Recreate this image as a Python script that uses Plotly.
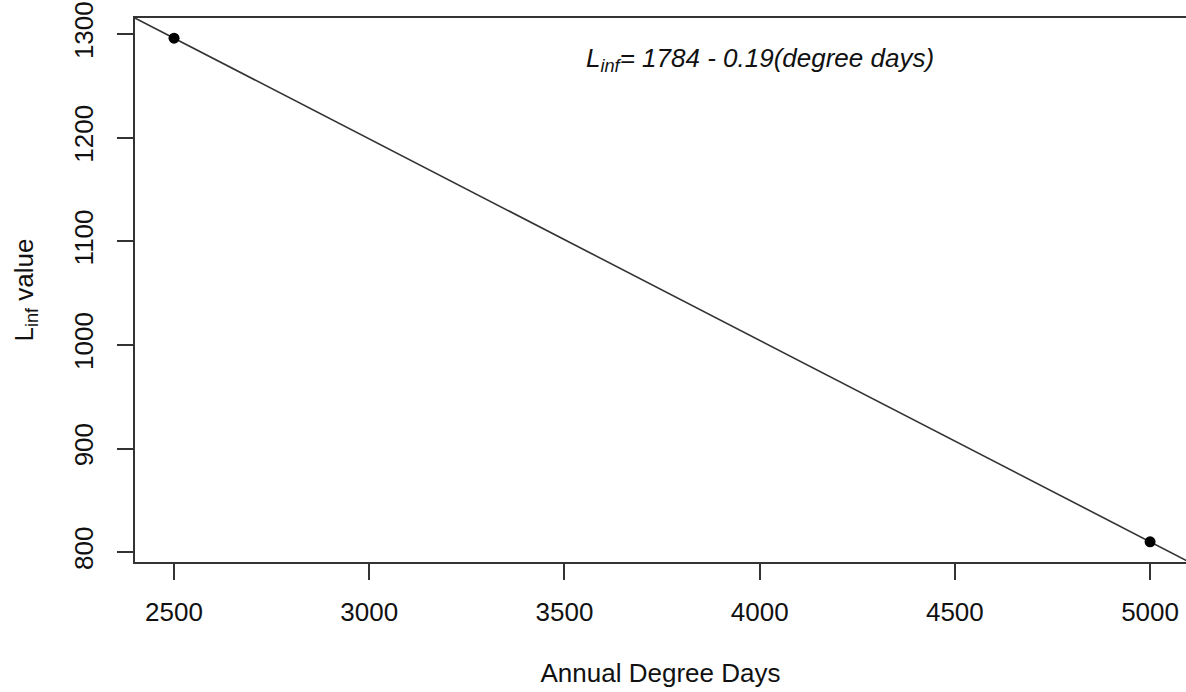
import plotly.graph_objects as go

# Data
degree_days = [2500, 5000]
linf_values = [1296, 810]
fit_intercept = 1782.0
fit_slope = -0.1944
x_ticks = [2500, 3000, 3500, 4000, 4500, 5000]
y_ticks = [800, 900, 1000, 1100, 1200, 1300]
eq_text = "<i>L<sub>inf</sub>= 1784 - 0.19(degree days)</i>"

x_range = [2400, 5092]
y_range = [790.5, 1315.5]

FONT = "Liberation Sans, Arial, Helvetica, sans-serif"
INK = "#333333"

fig = go.Figure()

# regression line (abline) across the whole plot region
line_x = [x_range[0], 5100]
line_y = [fit_intercept + fit_slope * v for v in line_x]
fig.add_trace(go.Scatter(x=line_x, y=line_y, mode="lines",
                         line=dict(color=INK, width=1.6), showlegend=False,
                         hoverinfo="skip"))

fig.add_trace(go.Scatter(x=degree_days, y=linf_values, mode="markers",
                         marker=dict(color="black", size=11), showlegend=False))

fig.add_annotation(x=4000, y=1275, text=eq_text, showarrow=False,
                   font=dict(family=FONT, size=26, color="#111111"),
                   xanchor="center", yanchor="middle")

fig.update_layout(
    width=1186, height=692,
    margin=dict(l=135, r=0, t=18, b=130),
    plot_bgcolor="white", paper_bgcolor="white",
    font=dict(family=FONT, size=26, color="#111111"),
    xaxis=dict(range=x_range, tickvals=x_ticks, showgrid=False, zeroline=False,
               showline=True, linecolor=INK, linewidth=1.5, mirror=True,
               ticks="outside", ticklen=16, tickwidth=1.5, tickcolor=INK,
               ticklabelstandoff=10,
               title=dict(text="Annual Degree Days", standoff=38,
                          font=dict(size=26))),
    yaxis=dict(range=y_range, tickvals=y_ticks, showgrid=False, zeroline=False,
               showline=True, linecolor=INK, linewidth=1.5,
               ticks="outside", ticklen=16, tickwidth=1.5, tickcolor=INK,
               tickangle=-90, ticklabelstandoff=14,
               title=dict(text="L<sub>inf</sub> value", standoff=28,
                          font=dict(size=26))),
)

fig.write_html("out.html")
